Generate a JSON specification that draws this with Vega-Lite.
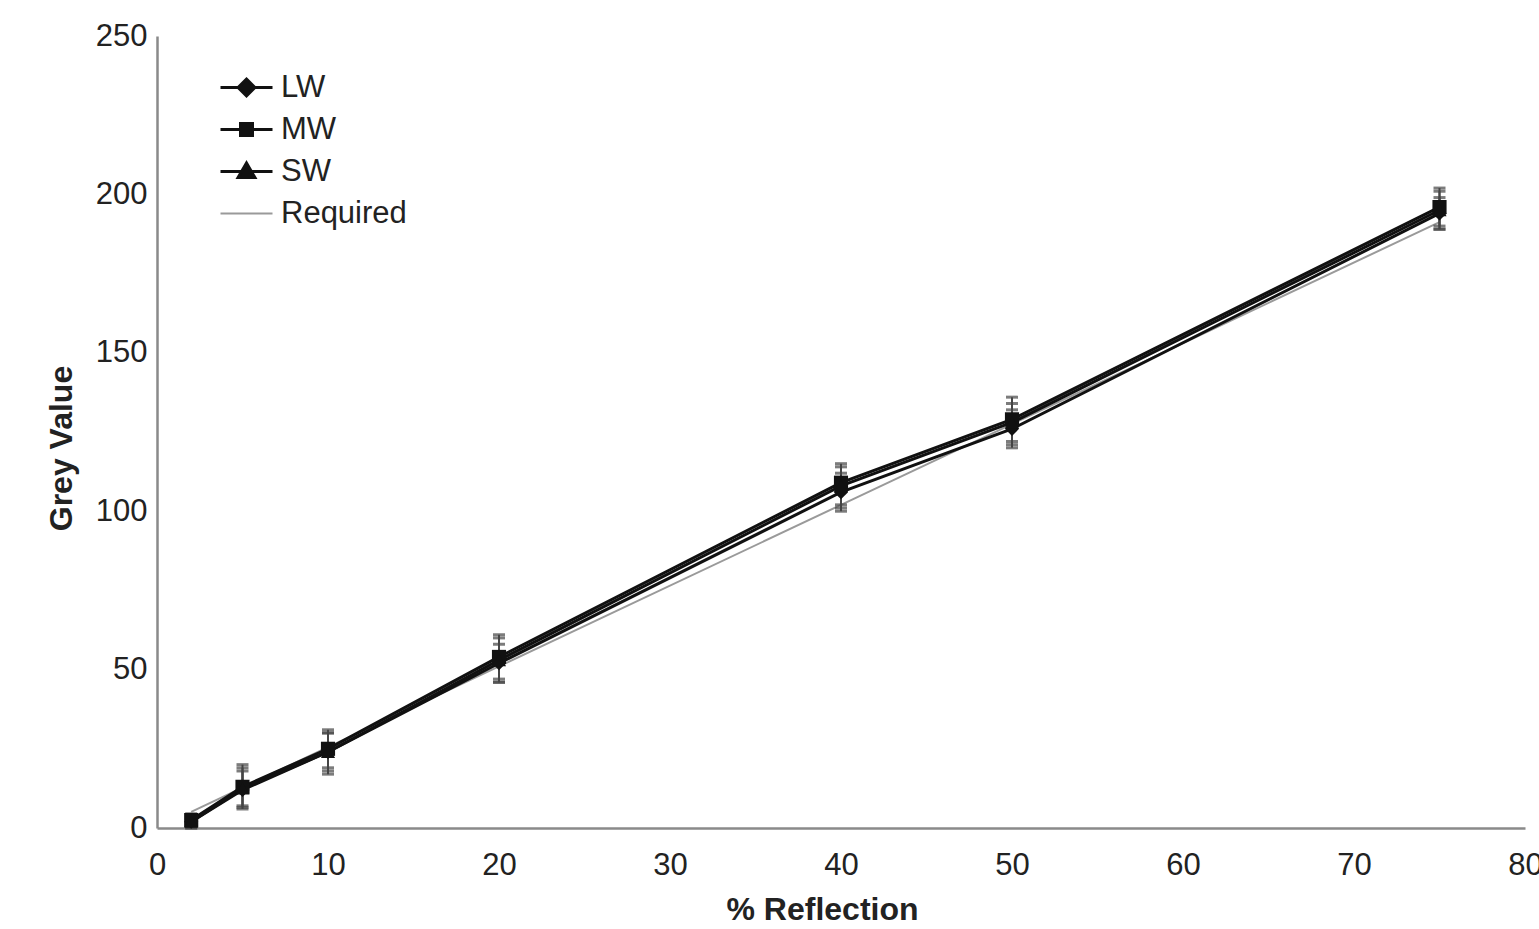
{
  "$schema": "https://vega.github.io/schema/vega-lite/v6.json",
  "width": 1368,
  "height": 792,
  "autosize": {"type": "none"},
  "padding": {"left": 157, "top": 36, "right": 14, "bottom": 101},
  "background": "white",
  "config": {
    "font": "Liberation Sans",
    "view": {"stroke": null},
    "axis": {"grid": false, "ticks": false, "domainColor": "#8a8a8a", "domainWidth": 2.5, "labelFont": "Liberation Sans", "labelFontSize": 31, "labelColor": "#222", "titleFont": "Liberation Sans", "titleFontSize": 32, "titleFontWeight": "bold", "titleColor": "#222"}
  },
  "data": {"values": [
    {"x": 2, "series": "LW", "y": 2, "lo": 0, "hi": 4},
    {"x": 5, "series": "LW", "y": 12, "lo": 6, "hi": 18},
    {"x": 10, "series": "LW", "y": 24, "lo": 18, "hi": 30},
    {"x": 20, "series": "LW", "y": 52, "lo": 46, "hi": 58},
    {"x": 40, "series": "LW", "y": 106, "lo": 100, "hi": 112},
    {"x": 50, "series": "LW", "y": 126, "lo": 120, "hi": 132},
    {"x": 75, "series": "LW", "y": 194, "lo": 189, "hi": 199},
    {"x": 2, "series": "MW", "y": 2.5, "lo": 0.5, "hi": 4.5},
    {"x": 5, "series": "MW", "y": 13, "lo": 7, "hi": 20},
    {"x": 10, "series": "MW", "y": 25, "lo": 19, "hi": 31},
    {"x": 20, "series": "MW", "y": 54, "lo": 47, "hi": 61},
    {"x": 40, "series": "MW", "y": 109, "lo": 102, "hi": 115},
    {"x": 50, "series": "MW", "y": 129, "lo": 122, "hi": 136},
    {"x": 75, "series": "MW", "y": 196, "lo": 190, "hi": 202},
    {"x": 2, "series": "SW", "y": 2, "lo": 0, "hi": 4},
    {"x": 5, "series": "SW", "y": 12.5, "lo": 6.5, "hi": 19},
    {"x": 10, "series": "SW", "y": 24, "lo": 17, "hi": 30},
    {"x": 20, "series": "SW", "y": 53, "lo": 46, "hi": 60},
    {"x": 40, "series": "SW", "y": 108, "lo": 101, "hi": 114},
    {"x": 50, "series": "SW", "y": 128, "lo": 121, "hi": 134},
    {"x": 75, "series": "SW", "y": 195, "lo": 189, "hi": 201},
    {"x": 2, "series": "Required", "y": 5.1},
    {"x": 5, "series": "Required", "y": 12.75},
    {"x": 10, "series": "Required", "y": 25.5},
    {"x": 20, "series": "Required", "y": 51},
    {"x": 40, "series": "Required", "y": 102},
    {"x": 50, "series": "Required", "y": 127.5},
    {"x": 75, "series": "Required", "y": 191.25}
  ]},
  "encoding": {
    "x": {"field": "x", "type": "quantitative", "scale": {"domain": [0, 80], "nice": false}, "axis": {"values": [0, 10, 20, 30, 40, 50, 60, 70, 80], "labelPadding": 22, "title": "% Reflection", "titlePadding": 14, "titleX": 665, "labelFlush": false}}
  },
  "layer": [
    {
      "transform": [{"filter": "datum.series == 'Required'"}],
      "mark": {"type": "line", "strokeWidth": 2},
      "encoding": {
        "y": {"field": "y", "type": "quantitative", "title": "Grey Value", "scale": {"domain": [0, 250], "nice": false}, "axis": {"values": [0, 50, 100, 150, 200, 250], "labelPadding": 10, "title": "Grey Value", "titlePadding": 17, "titleY": 412}},
        "color": {"field": "series", "type": "nominal", "scale": {"domain": ["LW", "MW", "SW", "Required"], "range": ["#111111", "#111111", "#111111", "#9a9a9a"]},
          "legend": {"title": null, "orient": "none", "legendX": 74, "legendY": 36, "padding": 0, "symbolSize": 1600, "labelOffset": 19, "rowPadding": 10, "labelFontSize": 31, "labelFont": "Liberation Sans", "labelColor": "#222",
            "encode": {"symbols": {"update": {
              "shape": {"signal": "datum.value == 'LW' ? 'M-1.3,0L1.3,0M0,-0.42L0.42,0L0,0.42L-0.42,0Z' : datum.value == 'MW' ? 'M-1.3,0L1.3,0M-0.3,-0.3L0.3,-0.3L0.3,0.3L-0.3,0.3Z' : datum.value == 'SW' ? 'M-1.3,0L1.3,0M0,-0.42L0.42,0.3L-0.42,0.3Z' : 'M-1.3,0L1.3,0'"},
              "fill": {"signal": "datum.value == 'Required' ? 'transparent' : '#111111'"},
              "stroke": {"signal": "datum.value == 'Required' ? '#9a9a9a' : '#111111'"},
              "strokeWidth": {"signal": "datum.value == 'Required' ? 2 : 3"},
              "opacity": {"value": 1}
            }}}}}
      }
    },
    {
      "transform": [{"filter": "datum.series != 'Required'"}],
      "mark": {"type": "errorbar", "ticks": {"size": 12, "thickness": 3}, "color": "#444", "thickness": 2},
      "encoding": {
        "y": {"field": "lo", "type": "quantitative", "title": "Grey Value"},
        "y2": {"field": "hi"},
        "detail": {"field": "series"}
      }
    },
    {
      "transform": [{"filter": "datum.series != 'Required'"}],
      "mark": {"type": "line", "strokeWidth": 3},
      "encoding": {
        "y": {"field": "y", "type": "quantitative", "title": "Grey Value"},
        "color": {"field": "series", "type": "nominal"}
      }
    },
    {
      "transform": [{"filter": "datum.series != 'Required'"}],
      "mark": {"type": "point", "filled": true, "opacity": 1, "size": 200},
      "encoding": {
        "y": {"field": "y", "type": "quantitative", "title": "Grey Value"},
        "color": {"field": "series", "type": "nominal"},
        "shape": {"field": "series", "type": "nominal", "scale": {"domain": ["LW", "MW", "SW"], "range": ["diamond", "square", "triangle-up"]}, "legend": null}
      }
    }
  ]
}
